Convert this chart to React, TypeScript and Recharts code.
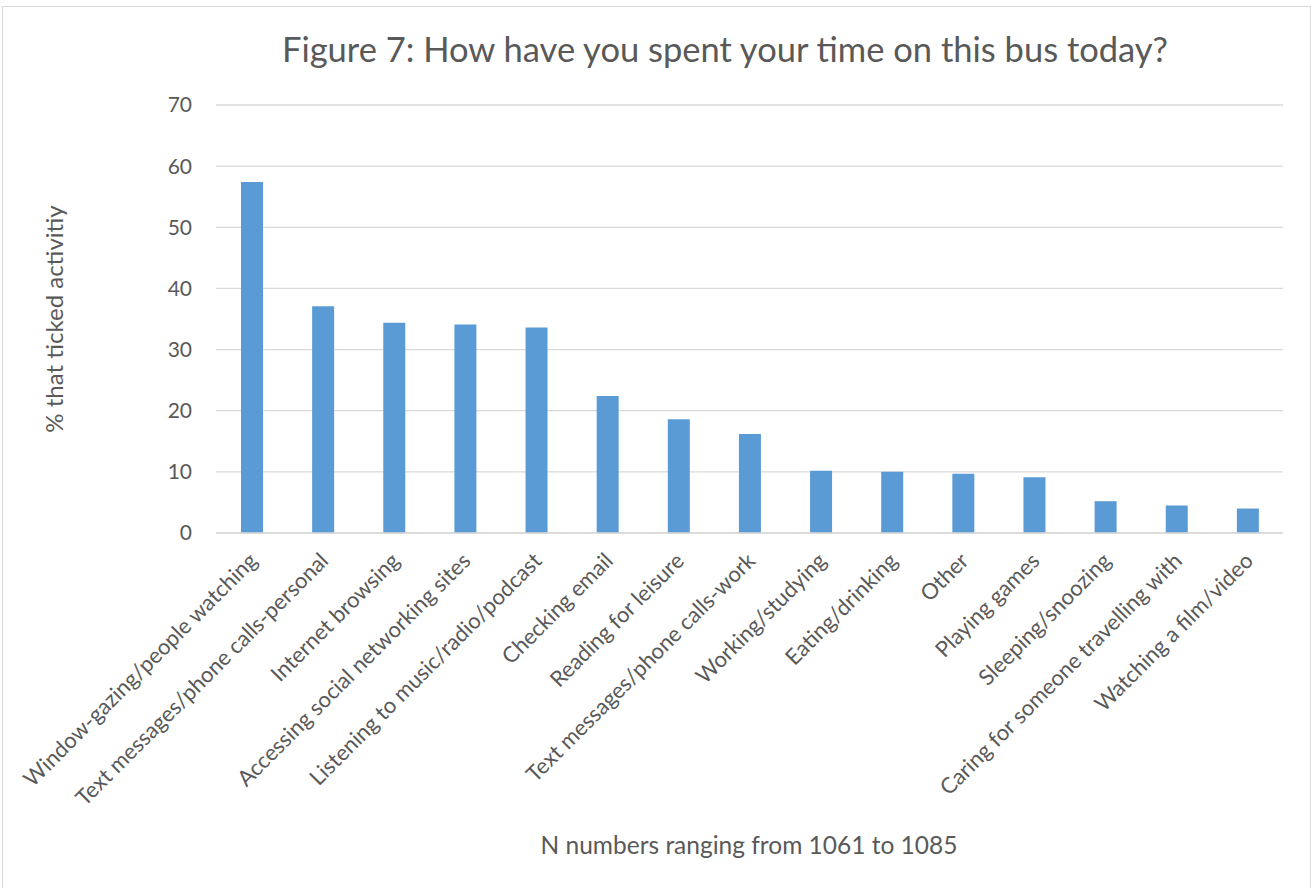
import { BarChart, Bar, XAxis, YAxis, CartesianGrid } from 'recharts';

const activities = [
  'Window-gazing/people watching',
  'Text messages/phone calls-personal',
  'Internet browsing',
  'Accessing social networking sites',
  'Listening to music/radio/podcast',
  'Checking email',
  'Reading for leisure',
  'Text messages/phone calls-work',
  'Working/studying',
  'Eating/drinking',
  'Other',
  'Playing games',
  'Sleeping/snoozing',
  'Caring for someone travelling with',
  'Watching a film/video',
];

const percentTicked = [57.4, 37.1, 34.4, 34.1, 33.6, 22.4, 18.6, 16.2, 10.2, 10.0, 9.7, 9.1, 5.2, 4.5, 4.0];

const yTicks = [0, 10, 20, 30, 40, 50, 60, 70];

const chartData = activities.map((name, i) => ({ name, value: percentTicked[i] }));

const FONT = 'Lato, "Open Sans", sans-serif';
const TEXT = '#595959';

// rotated category label, end of text sits just right of the tick
const AngledTick = ({ x, y, payload }: any) => (
  <g transform={`translate(${x},${y})`}>
    <text
      x={0}
      y={0}
      dx={-10}
      dy={20}
      textAnchor="end"
      transform="rotate(-45)"
      fill={TEXT}
      fontSize={22}
      fontFamily={FONT}
    >
      {payload.value}
    </text>
  </g>
);

export default function App() {
  return (
    <div
      style={{
        position: 'absolute',
        left: 0,
        top: 0,
        width: 1314,
        height: 888,
        background: '#fff',
        fontFamily: FONT,
      }}
    >
      {/* frame */}
      <div
        style={{
          position: 'absolute',
          left: 2,
          top: 6,
          width: 1309,
          height: 890,
          border: '1px solid #d9d9d9',
          boxSizing: 'border-box',
        }}
      />

      {/* Title */}
      <div
        style={{
          position: 'absolute',
          left: 725,
          top: 48,
          transform: 'translate(-50%, -50%)',
          whiteSpace: 'nowrap',
          fontSize: 34.5,
          color: TEXT,
        }}
      >
        Figure 7: How have you spent your time on this bus today?
      </div>

      {/* Y axis title */}
      <div
        style={{
          position: 'absolute',
          left: 53,
          top: 319,
          transform: 'translate(-50%, -50%) rotate(-90deg)',
          whiteSpace: 'nowrap',
          fontSize: 24,
          color: TEXT,
        }}
      >
        % that ticked activitiy
      </div>

      {/* X axis title */}
      <div
        style={{
          position: 'absolute',
          left: 749,
          top: 844,
          transform: 'translate(-50%, -50%)',
          whiteSpace: 'nowrap',
          fontSize: 24.5,
          color: TEXT,
        }}
      >
        N numbers ranging from 1061 to 1085
      </div>

      <div style={{ position: 'absolute', left: 0, top: 0 }}>
        <BarChart
          width={1314}
          height={888}
          data={chartData}
          margin={{ top: 105, right: 31, left: 0, bottom: 0 }}
          barSize={22}
        >
          <CartesianGrid vertical={false} stroke="#d9d9d9" strokeWidth={1.3} />
          <XAxis
            dataKey="name"
            interval={0}
            axisLine={{ stroke: '#d9d9d9', strokeWidth: 1.3 }}
            tickLine={false}
            tick={<AngledTick />}
            height={355}
          />
          <YAxis
            width={216}
            domain={[0, 70]}
            ticks={yTicks}
            axisLine={false}
            tickLine={false}
            tickMargin={18}
            tick={{ fill: TEXT, fontSize: 21, fontFamily: FONT }}
          />
          <Bar dataKey="value" fill="#5b9bd5" isAnimationActive={false} />
        </BarChart>
      </div>
    </div>
  );
}
